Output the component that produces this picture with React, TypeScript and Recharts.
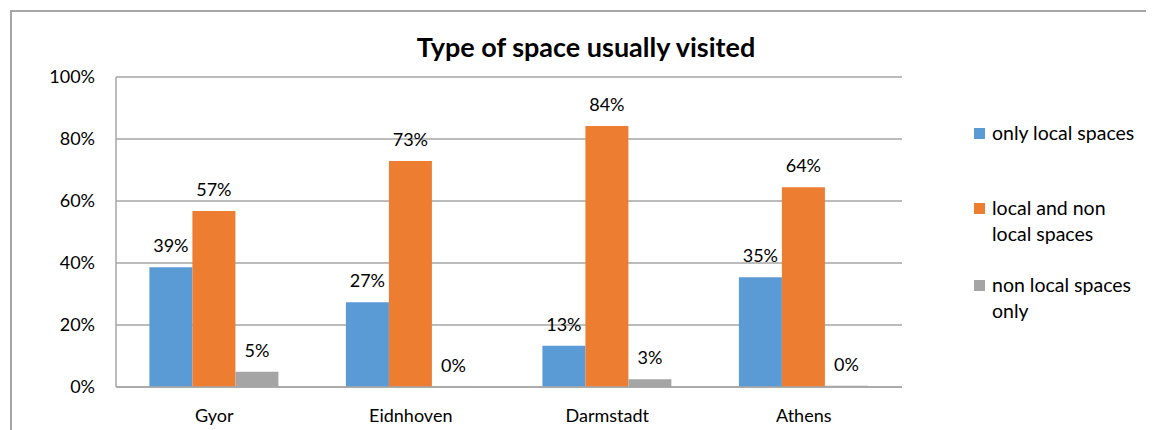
import React from 'react';
import { BarChart, Bar, XAxis, YAxis, CartesianGrid, LabelList } from 'recharts';

const categories = ['Gyor', 'Eidnhoven', 'Darmstadt', 'Athens'];
const onlyLocal = [38.6, 27.3, 13.3, 35.4];
const localAndNonLocal = [56.8, 72.9, 84.2, 64.4];
const nonLocalOnly = [4.9, 0.05, 2.5, 0.4];
const yTicks = [0, 20, 40, 60, 80, 100];
const seriesNames = ['only local spaces', 'local and non local spaces', 'non local spaces only'];
const seriesColors = ['#5b9bd5', '#ed7d31', '#a5a5a5'];
const title = 'Type of space usually visited';

const data = categories.map((c, i) => ({
  name: c,
  s0: onlyLocal[i],
  s1: localAndNonLocal[i],
  s2: nonLocalOnly[i],
}));

const FONT = 'Lato, "Open Sans", sans-serif';
const GRID = '#a6a6a6';

const fmt = (v: any) => `${Math.round(Number(v))}%`;

export default function App() {
  const legendTops = [112, 187, 264];
  return (
    <div style={{ position: 'relative', width: 1146, height: 422, overflow: 'hidden', background: '#fff', fontFamily: FONT }}>
      <div style={{ position: 'absolute', left: 2, top: 2, width: 1300, height: 600, borderLeft: `2px solid ${GRID}`, borderTop: `2px solid ${GRID}` }} />
      <div style={{ position: 'absolute', left: 0, width: 1156, top: 22, textAlign: 'center', fontSize: 27, fontWeight: 700, color: '#000', lineHeight: '34px' }}>
        {title}
      </div>
      <div style={{ position: 'absolute', left: 0, top: 0 }}>
        <BarChart width={1146} height={422} data={data} margin={{ top: 69, right: 252, bottom: 13, left: 48 }} barCategoryGap="17%" barGap={0}>
          <CartesianGrid vertical={false} stroke={GRID} strokeWidth={1.5} />
          <XAxis dataKey="name" axisLine={{ stroke: GRID, strokeWidth: 1.5 }} tickLine={false} tickSize={0} tickMargin={22} height={30} tick={{ fill: '#000', fontSize: 18, fontFamily: FONT }} />
          <YAxis domain={[0, 100]} ticks={yTicks} tickFormatter={(v: any) => `${v}%`} width={60} axisLine={{ stroke: GRID, strokeWidth: 1.5 }} tickLine={false} tickSize={0} tickMargin={21} tick={{ fill: '#000', fontSize: 18, fontFamily: FONT }} />
          {['s0', 's1', 's2'].map((k, i) => (
            <Bar key={k} dataKey={k} name={seriesNames[i]} fill={seriesColors[i]} isAnimationActive={false}>
              <LabelList dataKey={k} position="top" offset={15} formatter={fmt} fill="#000" fontSize={18} fontFamily={FONT} />
            </Bar>
          ))}
        </BarChart>
      </div>
      {seriesNames.map((n, i) => (
        <div key={n} style={{ position: 'absolute', left: 966, top: legendTops[i], display: 'flex', alignItems: 'flex-start' }}>
          <div style={{ width: 11, height: 11, background: seriesColors[i], marginTop: 8, marginRight: 7 }} />
          <div style={{ width: 146, fontSize: 19.5, lineHeight: '26px', color: '#000' }}>{n}</div>
        </div>
      ))}
    </div>
  );
}
